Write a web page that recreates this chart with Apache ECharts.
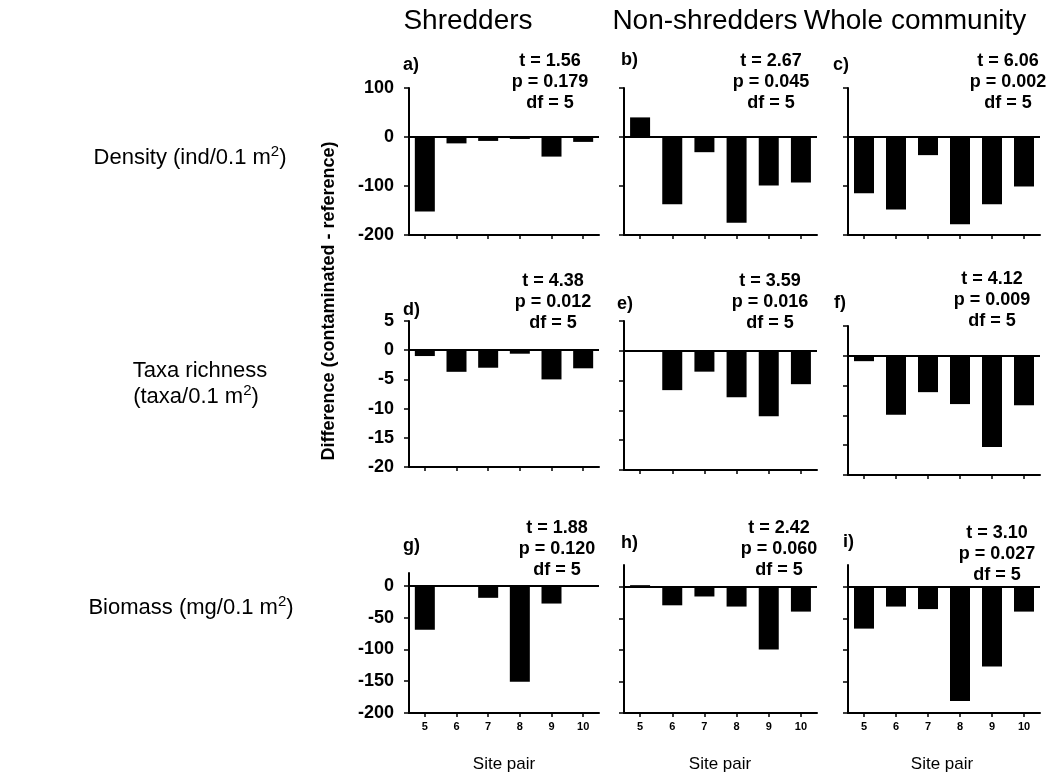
<!DOCTYPE html>
<html>
<head>
<meta charset="utf-8">
<title>Site pair differences</title>
<script src="https://cdn.jsdelivr.net/npm/echarts@6/dist/echarts.min.js"></script>
<style>
  html, body { margin: 0; padding: 0; background: #fff; }
  #chart { width: 1055px; height: 777px; }
</style>
</head>
<body>
<div id="chart"></div>
<script>
// Site pairs on the x axis
const sitePairs = ['5', '6', '7', '8', '9', '10'];

// Differences (contaminated - reference) per site pair
const densityShredders    = [-152, -13, -8, -4, -40, -10];
const densityNonShredders = [40, -137, -31, -175, -99, -93];
const densityWhole        = [-115, -148, -37, -178, -137, -101];

const richnessShredders    = [-1.0, -3.7, -3.0, -0.6, -5.0, -3.1];
const richnessNonShredders = [-0.2, -6.6, -3.5, -7.8, -11.0, -5.6];
const richnessWhole        = [-0.9, -9.9, -6.1, -8.1, -15.3, -8.3];

const biomassShredders    = [-69, -2, -19, -151, -28, -2];
const biomassNonShredders = [3, -29, -15, -31, -99, -39];
const biomassWhole        = [-66, -31, -35, -181, -126, -39];

// Paired t-test results, panels a) to i)
const panelLetters = ['a)', 'b)', 'c)', 'd)', 'e)', 'f)', 'g)', 'h)', 'i)'];
const tValues  = ['1.56', '2.67', '6.06', '4.38', '3.59', '4.12', '1.88', '2.42', '3.10'];
const pValues  = ['0.179', '0.045', '0.002', '0.012', '0.016', '0.009', '0.120', '0.060', '0.027'];
const dfValues = ['5', '5', '5', '5', '5', '5', '5', '5', '5'];

// Axis tick labels per row
const densityTicks  = [-200, -100, 0, 100];
const richnessTicks = [-20, -15, -10, -5, 0, 5];
const biomassTicks  = [-200, -150, -100, -50, 0];

const columnTitles = ['Shredders', 'Non-shredders', 'Whole community'];
const xAxisTitle = 'Site pair';
const yAxisTitle = 'Difference (contaminated - reference)';

const panelData = [
  densityShredders, densityNonShredders, densityWhole,
  richnessShredders, richnessNonShredders, richnessWhole,
  biomassShredders, biomassNonShredders, biomassWhole
];

const FONT = '"Liberation Sans", Arial, sans-serif';

// Layout of the 3x3 panel grid
const colLeft  = [409, 624, 848];
const colWidth = [190, 193, 192];
const gridBox = [
  {top: 88,  height: 147}, {top: 88,  height: 147}, {top: 88,  height: 147},
  {top: 321, height: 146}, {top: 321, height: 149}, {top: 326, height: 149},
  {top: 573, height: 140}, {top: 565, height: 148}, {top: 565, height: 148}
];
const rowAxis = [
  {min: -200, max: 100, interval: 100, ticks: densityTicks},
  {min: -20,  max: 5,   interval: 5,   ticks: richnessTicks},
  {min: -200, max: 20,  interval: 50,  ticks: biomassTicks}
];
// Row 3, columns 2 and 3 reach a little higher
const rowMaxOverride = {7: 35, 8: 35};

const letterPos = [
  [403, 65], [621, 60], [833, 65],
  [403, 310], [617, 304], [834, 303],
  [403, 546], [621, 543], [843, 542]
];
const statPos = [
  [550, 82], [771, 82], [1008, 82],
  [553, 302], [770, 302], [992, 300],
  [557, 549], [779, 549], [997, 554]
];

const grids = [], xAxes = [], yAxes = [], series = [], graphics = [];

for (let i = 0; i < 9; i++) {
  const row = Math.floor(i / 3), col = i % 3;
  const ax = rowAxis[row];
  grids.push({
    left: colLeft[col], width: colWidth[col],
    top: gridBox[i].top, height: gridBox[i].height,
    containLabel: false
  });
  xAxes.push({
    type: 'category', gridIndex: i, data: sitePairs, position: 'bottom',
    axisLine: {show: true, onZero: false, lineStyle: {color: '#000', width: 2}},
    axisTick: {show: true, alignWithLabel: true, length: 4, lineStyle: {color: '#000', width: 1.5}},
    axisLabel: {
      show: row === 2, color: '#000', fontFamily: FONT, fontWeight: 'bold',
      fontSize: 11, margin: 8, interval: 0
    },
    splitLine: {show: false}
  });
  const max = rowMaxOverride[i] !== undefined ? rowMaxOverride[i] : ax.max;
  yAxes.push({
    type: 'value', gridIndex: i, min: ax.min, max: max, interval: ax.interval,
    axisLine: {show: true, onZero: false, lineStyle: {color: '#000', width: 2}},
    axisTick: {show: true, length: 5, lineStyle: {color: '#000', width: 1.5}, customValues: ax.ticks},
    axisLabel: {
      show: col === 0, color: '#000', fontFamily: FONT, fontWeight: 'bold',
      fontSize: 18, margin: 15, customValues: ax.ticks
    },
    splitLine: {show: false}
  });
  series.push({
    type: 'bar', xAxisIndex: i, yAxisIndex: i,
    data: panelData[i], barWidth: 20,
    itemStyle: {color: '#000'},
    silent: true,
    markLine: {
      silent: true, symbol: 'none', label: {show: false},
      lineStyle: {color: '#000', width: 2, type: 'solid'},
      data: [{yAxis: 0}]
    }
  });
  graphics.push({
    type: 'text', x: letterPos[i][0], y: letterPos[i][1],
    style: {
      text: panelLetters[i], fill: '#000',
      font: 'bold 18px ' + FONT, align: 'left', verticalAlign: 'middle'
    }
  });
  graphics.push({
    type: 'text', x: statPos[i][0], y: statPos[i][1],
    style: {
      text: 't = ' + tValues[i] + '\np = ' + pValues[i] + '\ndf = ' + dfValues[i],
      fill: '#000', font: 'bold 18px ' + FONT, lineHeight: 21,
      align: 'center', verticalAlign: 'middle'
    }
  });
}

// Column headers
const headerX = [468, 705, 915];
columnTitles.forEach((t, c) => {
  graphics.push({
    type: 'text', x: headerX[c], y: 21,
    style: {text: t, fill: '#000', font: '28px ' + FONT, align: 'center', verticalAlign: 'middle'}
  });
});

// "Site pair" under each column
const siteTitleX = [504, 720, 942];
siteTitleX.forEach(x => {
  graphics.push({
    type: 'text', x: x, y: 764,
    style: {text: xAxisTitle, fill: '#000', font: '17px ' + FONT, align: 'center', verticalAlign: 'middle'}
  });
});

// Shared y-axis title
graphics.push({
  type: 'text', x: 329, y: 301, rotation: Math.PI / 2,
  style: {text: yAxisTitle, fill: '#000', font: 'bold 18px ' + FONT, align: 'center', verticalAlign: 'middle'}
});

// Row titles
const supRich = {
  sup: {fontSize: 15, fontFamily: FONT, fill: '#000', verticalAlign: 'top', padding: [0, 0, 12, 0]}
};
const rowTitles = [
  {x: 190, y: 158, text: 'Density (ind/0.1 m{sup|2})'},
  {x: 200, y: 371, text: 'Taxa richness'},
  {x: 196, y: 397, text: '(taxa/0.1 m{sup|2})'},
  {x: 191, y: 608, text: 'Biomass (mg/0.1 m{sup|2})'}
];
rowTitles.forEach(r => {
  graphics.push({
    type: 'text', x: r.x, y: r.y,
    style: {
      text: r.text, fill: '#000', font: '22px ' + FONT,
      align: 'center', verticalAlign: 'middle', rich: supRich
    }
  });
});

const chart = echarts.init(document.getElementById('chart'), null, {renderer: 'canvas'});
chart.setOption({
  animation: false,
  backgroundColor: '#fff',
  grid: grids,
  xAxis: xAxes,
  yAxis: yAxes,
  series: series,
  graphic: graphics
});
</script>
</body>
</html>
